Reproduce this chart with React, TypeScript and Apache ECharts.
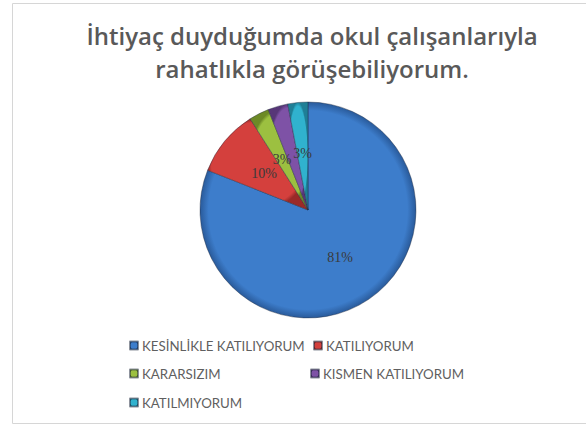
import React, { useEffect, useRef } from "react";
import * as echarts from "echarts";

const titleLines = ["İhtiyaç duyduğumda okul çalışanlarıyla", "rahatlıkla görüşebiliyorum."];
const categories = ["KESİNLİKLE KATILIYORUM", "KATILIYORUM", "KARARSIZIM", "KISMEN KATILIYORUM", "KATILMIYORUM"];
const values = [81, 10, 3, 3, 3];
const colors = ["#3D7DCB", "#D4403D", "#9CC040", "#7E52A6", "#30B2CE"];
const edgeColors = ["#295a9a", "#9a2a28", "#6d8a26", "#573678", "#1f7f96"];

export default function App() {
  const ref = useRef<HTMLDivElement>(null);
  useEffect(() => {
    if (!ref.current) return;
    const chart = echarts.init(ref.current, undefined, { renderer: "svg" });
    const legendPos = [
      { left: 129, top: 339 },
      { left: 313, top: 339 },
      { left: 129, top: 367 },
      { left: 310, top: 367 },
      { left: 129, top: 396 },
    ];
    const legendFont = { fontFamily: "Lato", fontSize: 13.3, color: "#5f5f5f" };
    chart.setOption({
      animation: false,
      backgroundColor: "#ffffff",
      color: colors,
      title: {
        text: titleLines.join("\n"),
        left: 307,
        textAlign: "center",
        top: 14,
        textStyle: {
          fontFamily: "Open Sans",
          fontWeight: 600,
          fontSize: 24,
          color: "#595959",
          lineHeight: 33,
        },
      },
      legend: categories.map((c, i) => ({
        data: [c],
        left: legendPos[i].left,
        top: legendPos[i].top,
        icon: "rect",
        itemWidth: 8,
        itemHeight: 8,
        itemGap: 4,
        padding: 0,
        textStyle: { ...legendFont, padding: [0, 0, 0, -1] },
      })),
      graphic: [
        {
          type: "rect",
          shape: { x: 12.5, y: 3.5, width: 600, height: 420 },
          style: { fill: "none", stroke: "#d6d6d6", lineWidth: 1 },
          silent: true,
          z: -10,
        },
      ],
      series: [
        {
          type: "pie",
          center: [308, 210],
          radius: 108,
          startAngle: 90,
          clockwise: true,
          data: categories.map((c, i) => ({
            name: c,
            value: values[i],
            itemStyle: {
              color: {
                type: "radial",
                x: 0.5,
                y: 0.5,
                r: 0.5,
                colorStops: [
                  { offset: 0, color: colors[i] },
                  { offset: 0.92, color: colors[i] },
                  { offset: 1, color: edgeColors[i] },
                ],
              },
              borderColor: "rgba(30,40,60,0.5)",
              borderWidth: 0.8,
            },
          })),
          label: {
            show: true,
            position: "inside",
            formatter: "{d}%",
            fontFamily: "Liberation Serif",
            fontSize: 14,
            color: "#3a3a3a",
          },
          labelLine: { show: false },
          emphasis: { disabled: true },
        },
      ],
    });
    return () => chart.dispose();
  }, []);
  return <div ref={ref} style={{ position: "fixed", left: 0, top: 0, width: 586, height: 427 }} />;
}
